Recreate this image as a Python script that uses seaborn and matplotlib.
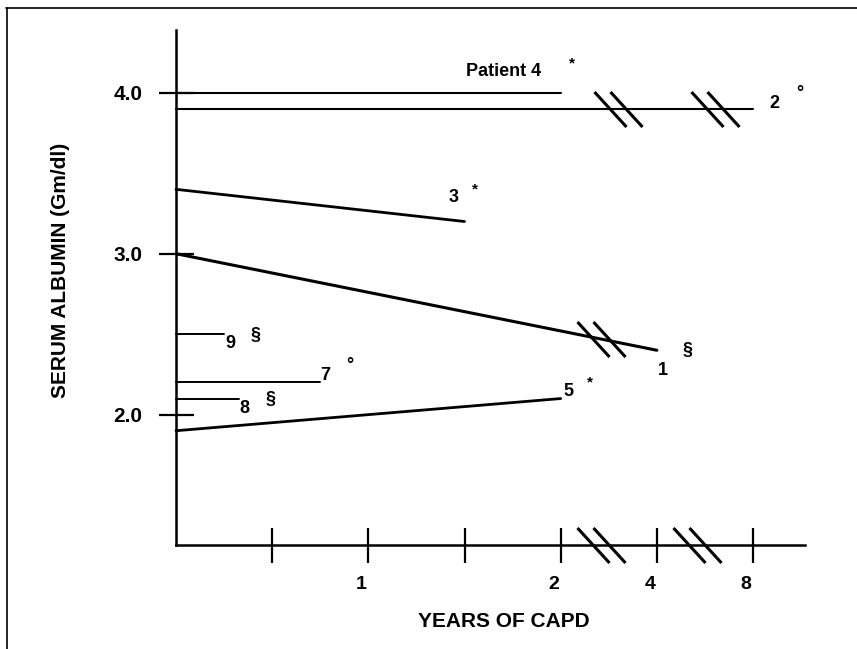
import numpy as np
import pandas as pd
import matplotlib
matplotlib.use("Agg")
import matplotlib.pyplot as plt
import seaborn as sns
from matplotlib.path import Path
from matplotlib.lines import Line2D
from matplotlib.transforms import ScaledTranslation

# ---------------- data ----------------
patient_ids = ["4", "2", "3", "1", "9", "7", "8", "5"]
start_years = [0, 0, 0, 0, 0, 0, 0, 0]
end_years = [2.0, 8.0, 1.5, 4.0, 0.25, 0.75, 0.33, 2.0]
start_albumin = [4.0, 3.9, 3.4, 3.0, 2.5, 2.2, 2.1, 1.9]
end_albumin = [4.0, 3.9, 3.2, 2.4, 2.5, 2.2, 2.1, 2.1]
status_marks = ["*", "°", "*", "§", "§", "°", "§", "*"]

x_tick_years = [0.5, 1, 1.5, 2, 4, 8]
x_tick_labels = ["", "1", "", "2", "4", "8"]
y_ticks = [2.0, 3.0, 4.0]
y_tick_labels = ["2.0", "3.0", "4.0"]

# ---------------- layout / style ----------------
PX = 72 / 100  # points per pixel at dpi 100


def year_pos(y):
    """Position on the broken time axis (1 unit = 1 year up to 2 years)."""
    y = np.asarray(y, dtype=float)
    return np.where(y <= 2, y,
                    np.where(y <= 4, 2 + (y - 2) * 0.25, 2.5 + (y - 4) * 0.125))


line_widths = {"4": 1.5, "2": 1.5, "3": 2.0, "1": 2.2, "9": 1.4, "7": 1.4, "8": 1.4, "5": 2.0}
# label offsets (pixels) relative to the end of each line
num_offsets = {"4": (-57, 21), "2": (21, 5), "3": (-11, 24), "1": (6, -20),
               "9": (6, -9), "7": (5, 7), "8": (5, -10), "5": (8, 7)}
mark_offsets = {"4": (11, 33), "2": (47, 19), "3": (10, 36), "1": (31, -2),
                "9": (31, -3), "7": (30, 21), "8": (31, -2), "5": (29, 20)}
axis_breaks = [2.21, 2.71]
line_breaks = {"2": [2.30, 2.80], "1": [2.21]}

rows = []
for pid, x0, x1, a0, a1 in zip(patient_ids, start_years, end_years, start_albumin, end_albumin):
    rows.append({"patient": pid, "pos": float(year_pos(x0)), "albumin": a0})
    rows.append({"patient": pid, "pos": float(year_pos(x1)), "albumin": a1})
df = pd.DataFrame(rows)

sns.set_style("ticks")
plt.rcParams["font.family"] = ["Liberation Sans", "DejaVu Sans"]
plt.rcParams["font.weight"] = "bold"
for k in ["text.color", "axes.labelcolor", "xtick.color", "ytick.color", "axes.edgecolor"]:
    plt.rcParams[k] = "black"

fig = plt.figure(figsize=(8.57, 6.49), dpi=100)
ax = fig.add_axes([176 / 857, 1 - 545 / 649, 629 / 857, 515 / 649])

for pid in patient_ids:
    sub = df[df["patient"] == pid]
    sns.lineplot(data=sub, x="pos", y="albumin", ax=ax, color="black",
                 lw=line_widths[pid], estimator=None, legend=False, clip_on=False)

# break marks ("//") drawn as custom markers
brk = Path([(-24, 17.5), (8, -17.5), (-8, 17.5), (24, -17.5)],
           [Path.MOVETO, Path.LINETO, Path.MOVETO, Path.LINETO])
brk_kw = dict(ls="none", marker=brk, markersize=48 * PX, mew=2.2, mfc="none",
              mec="black", clip_on=False, zorder=5)

ax.set_xlim(0, 3.27)
ax.set_ylim(1.19, 4.39)
ax.plot(axis_breaks, [1.19] * len(axis_breaks), **brk_kw)
for pid, xs in line_breaks.items():
    sub = df[df["patient"] == pid]
    ys = np.interp(xs, sub["pos"], sub["albumin"])
    ax.plot(xs, ys, **brk_kw)

# labels at line ends
for pid, mark in zip(patient_ids, status_marks):
    sub = df[df["patient"] == pid]
    xe, ye = sub["pos"].iloc[-1], sub["albumin"].iloc[-1]
    txt = "Patient 4" if pid == "4" else pid
    dx, dy = num_offsets[pid]
    ax.annotate(txt, xy=(xe, ye), xytext=(dx * PX, dy * PX), textcoords="offset points",
                ha="center", va="center", fontsize=13, fontweight="bold",
                color="black", annotation_clip=False)
    mx, my = mark_offsets[pid]
    if mark == "*":
        fs, my = 11, my - 3.5
    elif mark == "°":
        fs, my = 13, my - 4
    else:
        fs, my = 13, my + 1.4
    ax.annotate(mark, xy=(xe, ye), xytext=(mx * PX, my * PX), textcoords="offset points",
                ha="center", va="center", fontsize=fs, fontweight="bold",
                color="black", annotation_clip=False)

# axes styling
for s in ["top", "right"]:
    ax.spines[s].set_visible(False)
for s in ["left", "bottom"]:
    ax.spines[s].set_linewidth(1.8)
    ax.spines[s].set_color("black")

ax.set_xticks(year_pos(x_tick_years))
ax.set_xticklabels(x_tick_labels, fontsize=14, fontweight="bold")
ax.set_yticks(y_ticks)
ax.set_yticklabels(y_tick_labels, fontsize=15, fontweight="bold")
ax.tick_params(axis="both", which="major", direction="inout", length=35 * PX, width=1.6,
               color="black", labelcolor="black", bottom=True, left=True)
ax.tick_params(axis="x", pad=10)
ax.tick_params(axis="y", pad=11.5)
ax.minorticks_off()
for lab in ax.get_xticklabels():
    lab.set_transform(lab.get_transform() + ScaledTranslation(-7 / 100, 0, fig.dpi_scale_trans))

ax.set_xlabel("YEARS OF CAPD", fontsize=15, fontweight="bold", color="black")
ax.set_ylabel("SERUM ALBUMIN (Gm/dl)", fontsize=15, fontweight="bold", color="black")
ax.xaxis.set_label_coords(0.521, -0.13)
ax.yaxis.set_label_coords(-0.1685, 0.534)
ax.xaxis.label.set_va("top")

# outer frame (top and left edges visible in the reference)
fig.add_artist(Line2D([6 / 857, 1], [1 - 8 / 649, 1 - 8 / 649], transform=fig.transFigure,
                      color="black", lw=1.2))
fig.add_artist(Line2D([7 / 857, 7 / 857], [0, 1 - 8 / 649], transform=fig.transFigure,
                      color="black", lw=1.2))

fig.savefig("out.png", dpi=100, facecolor="white")
